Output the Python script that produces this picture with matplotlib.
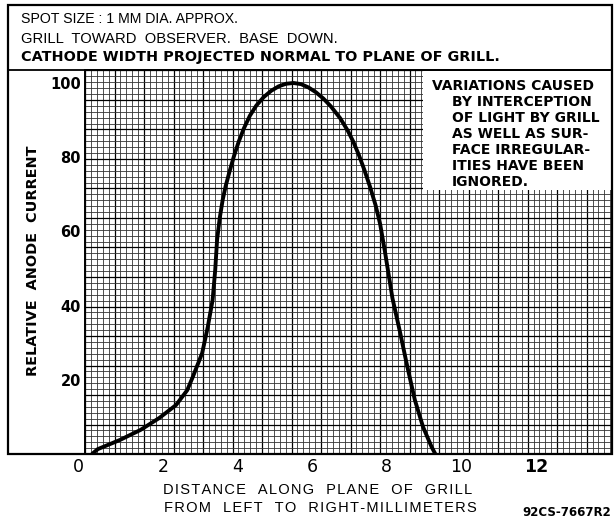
import numpy as np
import matplotlib
matplotlib.use("Agg")
import matplotlib.pyplot as plt
from matplotlib.patches import Rectangle
from matplotlib.lines import Line2D
from matplotlib.transforms import ScaledTranslation

# curve: spot position (mm) vs relative anode current
dist_mm = [0.1, 0.25, 0.85, 1.4, 1.9, 2.35, 2.65, 2.8, 3.05, 3.2, 3.33, 3.4,
           3.45, 3.52, 3.6, 3.68, 3.78, 3.9, 4.03, 4.17, 4.33, 4.5, 4.7,
           4.9, 5.1, 5.3, 5.5, 5.7, 5.9, 6.1, 6.3, 6.5, 6.75, 6.95, 7.1,
           7.25, 7.4, 7.55, 7.7, 7.82, 7.95, 8.15, 8.35, 8.55, 8.75, 8.97,
           9.2, 9.3]
rel_current = [0, 1.3, 3.8, 6.5, 9.7, 13.2, 17.2, 20.8, 27.2, 34.2, 41.5,
               49.6, 57.7, 63.5, 68.5, 72.2, 76.0, 80.2, 84.2, 87.8, 91.2,
               93.9, 96.2, 97.9, 99.1, 99.8, 100, 99.7, 98.8, 97.5, 95.8,
               93.7, 90.5, 87.2, 84.2, 80.6, 76.5, 72.0, 67.0, 62.0, 54.5, 42,
               33, 23.5, 14.6, 7.3, 1.9, 0]

x_ticks = [0, 2, 4, 6, 8, 10, 12]
y_ticks = [20, 40, 60, 80, 100]

header = ["SPOT SIZE : 1 MM DIA. APPROX.",
          "GRILL  TOWARD  OBSERVER.  BASE  DOWN."]
header_bold = "CATHODE WIDTH PROJECTED NORMAL TO PLANE OF GRILL."
note = ["VARIATIONS CAUSED", "BY INTERCEPTION", "OF LIGHT BY GRILL",
        "AS WELL AS SUR-", "FACE IRREGULAR-", "ITIES HAVE BEEN", "IGNORED."]
xlabel = ["DISTANCE  ALONG  PLANE  OF  GRILL",
          "FROM  LEFT  TO  RIGHT-MILLIMETERS"]
ylabel = "RELATIVE  ANODE  CURRENT"
code = "92CS-7667R2"

W, H = 615, 522
fig = plt.figure(figsize=(W / 100, H / 100), dpi=100)
renderer = fig.canvas.get_renderer()


def fx(x):
    return x / W


def fy(y):
    return 1 - y / H


def fit(t, target, vertical=False):
    # scale the font so the text spans the same pixels as on the sheet
    for _ in range(3):
        bb = t.get_window_extent(renderer)
        size = bb.height if vertical else bb.width
        t.set_fontsize(t.get_fontsize() * target / size)


def spaced(s):
    return "\u200a".join(s)


# plot area in pixels
L, R, T, B = 85, 612, 70, 454
ax = fig.add_axes([fx(L), fy(B), fx(R - L), (B - T) / H])
xmin, xmax = -0.09, (R - 88.5) / 37.3
ymin, ymax = 0, (B - T) / 3.71
ax.set_xlim(xmin, xmax)
ax.set_ylim(ymin, ymax)

# graph paper
cell = 5.9
dx, dy = cell / 37.3, cell / 3.71
gx = xmin + dx * np.arange(0, int((xmax - xmin) / dx) + 1)
gy = ymin + dy * np.arange(0, int((ymax - ymin) / dy) + 1)
for i, v in enumerate(gx):
    heavy = i % 5 == 0
    ax.axvline(v, color="black" if heavy else "#333333",
               lw=0.9 if heavy else 0.6, zorder=1)
for i, v in enumerate(gy):
    heavy = i % 5 == 0
    ax.axhline(v, color="black" if heavy else "#333333",
               lw=0.9 if heavy else 0.6, zorder=1)

ax.plot(dist_mm, rel_current, color="black", lw=2.8,
        solid_capstyle="round", solid_joinstyle="round", zorder=3)

# white note box over the grid
ax.add_patch(Rectangle(((423 - L) / (R - L), (B - 190) / (B - T)),
                       1, 1, transform=ax.transAxes, facecolor="white",
                       edgecolor="none", zorder=2))
t = fig.text(fx(432), fy(86), note[0], fontsize=9.8, fontweight="bold",
             family="DejaVu Sans", va="center", ha="left")
fit(t, 162)
for k, line in enumerate(note[1:]):
    fig.text(fx(452), fy(86 + 16 * (k + 1)), line,
             fontsize=t.get_fontsize(), fontweight="bold",
             family="DejaVu Sans", va="center", ha="left")

for s in ax.spines.values():
    s.set_linewidth(1.4)

ax.set_xticks(x_ticks)
ax.set_xticklabels([str(v) for v in x_ticks],
                   family=["Liberation Sans Narrow", "DejaVu Sans"],
                   fontsize=12.5)
ax.set_yticks(y_ticks)
ax.set_yticklabels([str(v) for v in y_ticks], fontweight="bold",
                   family="DejaVu Sans", fontsize=10.5)
ax.tick_params(length=0, pad=3)
xlabels = ax.get_xticklabels()
xlabels[-1].set_fontweight("bold")
xlabels[-1].set_family("DejaVu Sans")
xlabels[0].set_transform(xlabels[0].get_transform()
                         + ScaledTranslation(-10 / 100, 0, fig.dpi_scale_trans))

# outer frame
fig.add_artist(Rectangle((fx(8), fy(B)), fx(R - 8), (B - 5) / H,
                         transform=fig.transFigure, fill=False,
                         edgecolor="black", lw=1.6))
fig.add_artist(Line2D([fx(8), fx(R)], [fy(T), fy(T)],
                      transform=fig.transFigure, color="black", lw=1.3))

t = fig.text(fx(21), fy(19), header[0], fontsize=10, family="Liberation Sans",
             va="center", ha="left")
fit(t, 219)
t = fig.text(fx(21), fy(39), header[1], fontsize=10, family="Liberation Sans",
             va="center", ha="left")
fit(t, 317)
t = fig.text(fx(21), fy(57), header_bold, fontsize=10, fontweight="bold",
             family="DejaVu Sans", va="center", ha="left")
fit(t, 476)

t = fig.text(fx(33), fy(261), ylabel, rotation=90, fontsize=10,
             fontweight="bold", family="DejaVu Sans",
             va="center", ha="center")
fit(t, 227, vertical=True)

fig.text(fx(318), fy(490), spaced(xlabel[0]), fontsize=10.5,
         family=["Liberation Sans", "DejaVu Sans"], va="center", ha="center")
fig.text(fx(320), fy(508), spaced(xlabel[1]), fontsize=10.5,
         family=["Liberation Sans", "DejaVu Sans"], va="center", ha="center")
fig.text(fx(567), fy(512), code, fontsize=8.5, fontweight="bold",
         family="DejaVu Sans", va="center", ha="center")

fig.savefig("out.png", dpi=100)
